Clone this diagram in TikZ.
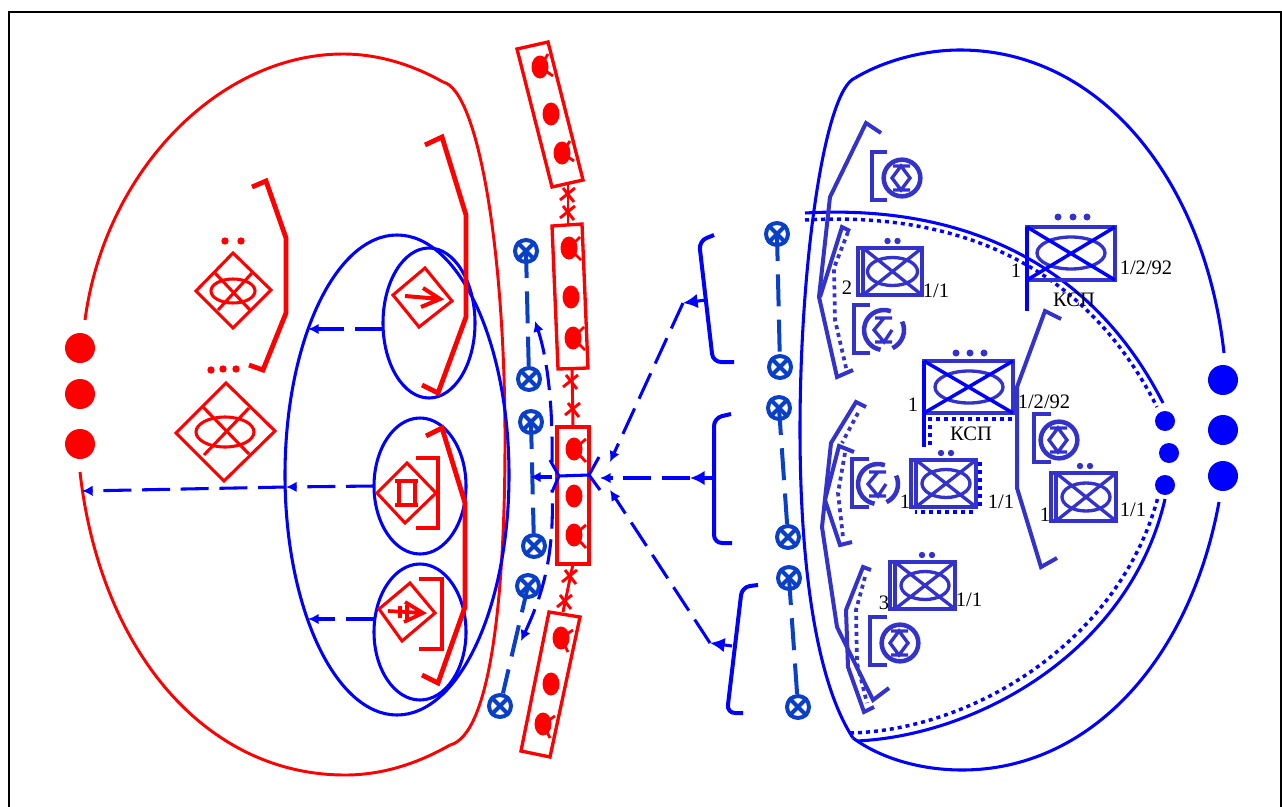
\documentclass[tikz,border=0pt]{standalone}
\usepackage{fontspec}
\setmainfont{Liberation Serif}
\usetikzlibrary{arrows.meta}
\definecolor{rd}{HTML}{FF0000}
\definecolor{bl}{HTML}{0000FF}
\definecolor{xb}{HTML}{0A40C8}
\definecolor{pu}{HTML}{3333CC}
\tikzset{
 redthin/.style={draw=rd,line width=2.2pt},
 redthick/.style={draw=rd,line width=3.6pt,line join=miter},
 redsym/.style={draw=rd,line width=2.3pt},
 blueline/.style={draw=bl,line width=2.3pt},
 bluefat/.style={draw=bl,line width=3pt,rounded corners=6pt},
 dashblue/.style={draw=bl,line width=2.3pt,dash pattern=on 21pt off 8pt},
 curvedash/.style={draw=bl,line width=2.3pt,dash pattern=on 19pt off 8pt},
 xdash/.style={draw=xb,line width=3pt,dash pattern=on 24pt off 10pt,dash phase=3.75pt},
 pubrk/.style={draw=pu,line width=3pt},
 pusym/.style={draw=pu,line width=2.5pt},
 pudot/.style={draw=pu,line width=2.8pt,dash pattern=on 3pt off 3pt},
 bdot/.style={draw=bl,line width=2.6pt,dash pattern=on 3pt off 3pt},
 crossl/.style={draw=bl,line width=2.6pt},
 smalltip/.style={-{Latex[length=8pt,width=8pt]}},
 bigtip/.style={-{Latex[length=11pt,width=11pt]}},
 dotnode/.style={circle,inner sep=0pt,minimum size=#1,fill},
 xc/.style={circle,draw=xb,line width=3pt,inner sep=0pt,minimum size=16.5pt},
 lab/.style={font=\fontsize{15.4pt}{16pt}\selectfont,text=black,inner sep=0pt},
}
\newcommand{\xcirc}[3]{\node[xc] (#1) at (#2,#3) {};
 \draw[xb,line width=3pt] (#1.45)--(#1.225) (#1.135)--(#1.315);}
\newcommand{\xmk}[2]{\draw[redthin] (#1-8,#2+5)--(#1+7,#2-7) (#1-5,#2-7)--(#1+6,#2+7);}
\newcommand{\blob}[6]{\fill[rd] (#1,#2) ellipse [x radius=8.5,y radius=11.5];
 \draw[rd,line width=2.1pt] (#1,#2)--(#1+#3,#2+#4) (#1,#2)--(#1+#5,#2+#6);}
\newcommand{\plainblob}[2]{\fill[rd] (#1,#2) ellipse [x radius=8.5,y radius=11.5];}
\newcommand{\barsym}{\draw[pusym] (-9,-12)--(8,-12) (-9,12)--(8,12) (-1,-12)--(-10,0)--(-1,12)--(8,0)--cycle;}
\newcommand{\rsym}[5]{%
 \begin{scope}[shift={(#1,#2)}]
 \node[circle,draw=pu,line width=3.4pt,minimum size=27.5pt,inner sep=0pt] (#3) at (0,0) {};
 \barsym
 \draw[pusym] (#4,-26)--(#5,-26)--(#5,22)--(#4,22);
 \end{scope}}
\newcommand{\rbrk}[4]{%
 \begin{scope}[shift={(#1,#2)}]
 \draw[pu,line width=3.4pt] (65:20) arc (65:-25:20);
 \draw[pu,line width=3.4pt] (-70:20) arc (-70:-260:20);
 \draw[pusym] (-9,-12)--(8,-12) (-9,12)--(8,12) (0,-12)--(-10,0)--(0,12)--(8,0);
 \draw[pusym] (#3,-25)--(#4,-25)--(#4,23)--(#3,23);
 \end{scope}}
\newcommand{\unit}[7]{%
 \draw[pusym,line width=2.7pt] (#1,#2) rectangle (#3,#4) (#5,#2)--(#5,#4);
 \draw[pusym] (#5,#2)--(#3,#4) (#3,#2)--(#5,#4);
 \draw[pusym] ({(#5+#3)/2},{(#2+#4)/2}) ellipse [x radius=#6,y radius=14];
 \fill[pu] ({(#5+#3)/2-4+#7},#2-7) circle (3.2) ({(#5+#3)/2+6+#7},#2-7) circle (3.2);}
\begin{document}
\begin{tikzpicture}[x=0.75pt,y=-0.75pt]
\useasboundingbox (0,0) rectangle (1282,807);
\draw[black,line width=1.6pt] (9,808)--(9,12)--(1281,12)--(1281,808);

% ---- red outline
\draw[redthin] (85,320) .. controls (105,170) and (220,54) .. (343,54) .. controls (380,54) and (415,66) .. (443,82);
\draw[redthin] (443,82) .. controls (478,90) and (505,250) .. (505,440) .. controls (505,600) and (490,735) .. (450,745);
\draw[redthin] (450,745) .. controls (415,765) and (380,775) .. (345,775) .. controls (205,775) and (100,650) .. (80,472);

% ---- red dots
\node[dotnode=22.5pt,rd] (rd1) at (80,348) {};
\node[dotnode=22.5pt,rd] (rd2) at (80,394) {};
\node[dotnode=22.5pt,rd] (rd3) at (80,444) {};

% ---- blue ellipses
\draw[blueline] (397,475) ellipse [x radius=112,y radius=240];
\draw[blueline] (429,323) ellipse [x radius=46,y radius=75];
\draw[blueline] (420,486) ellipse [x radius=46,y radius=68];
\draw[blueline] (420,632) ellipse [x radius=46,y radius=68];

% ---- red brackets
\draw[redthick] (425,145)--(442,137)--(466,215)--(466,317)--(438,393)--(422,385);
\draw[redthick] (426,436)--(442,428)--(465,503)--(465,607)--(438,683)--(422,675);
\draw[redthick] (252,187)--(266,181)--(286,238)--(286,313)--(263,370)--(249,365);

% ---- red symbols
\draw[redsym] (233,253)--(271,290)--(233,328)--(196,291)--cycle;
\draw[redsym] (233,291) ellipse [x radius=22,y radius=12];
\draw[redsym] (215,273)--(250,310) (252,273)--(218,310);
\fill[rd] (225,241) circle (3.7) (241,241) circle (3.7);

\draw[redsym] (226,383)--(275,431)--(224,481)--(176,433)--cycle;
\draw[redsym] (225,432) ellipse [x radius=29,y radius=15];
\draw[redsym] (203,407)--(249,454) (249,408)--(204,455);
\fill[rd] (211,370) circle (3.7) (223,369) circle (3.7) (236,369) circle (3.7);

\draw[redsym] (425,268)--(452,301)--(419,327)--(393,295)--cycle;
\draw[rd,line width=3pt] (405,296)--(440,299) (423,288)--(440,299)--(421,307);

\draw[redsym] (407,463)--(436,493)--(405,523)--(377,493)--cycle;
\draw[redsym] (395,481)--(418,481) (399,481)--(399,505) (415,481)--(415,505) (395,505)--(418,505);
\draw[redsym] (416,458)--(438,458)--(438,528)--(416,528);

\draw[redsym] (410,583)--(435,613)--(402,641)--(379,609)--cycle;
\draw[rd,line width=2.8pt] (388,611)--(423,613) (405,602)--(423,613)--(404,622) (400,606)--(400,618) (407,605)--(407,620);
\draw[redsym] (419,579)--(442,579)--(442,649)--(419,649);

% ---- left dashed arrows
\coordinate (la1) at (383,329); \coordinate (la1e) at (308,329);
\coordinate (la2) at (374,486); \coordinate (la2m) at (286,487); \coordinate (la2e) at (82,491);
\coordinate (la3) at (374,619); \coordinate (la3e) at (308,619);
\draw[dashblue,smalltip] (la1)--(la1e);
\draw[dashblue,smalltip] (la2)--(la2m);
\draw[dashblue,smalltip] (la2m)--(la2e);
\draw[dashblue,smalltip] (la3)--(la3e);

% ---- red chain
\coordinate (l1a) at (568,185); \coordinate (l1b) at (568,225);
\coordinate (l2a) at (572,368); \coordinate (l2b) at (573,427);
\coordinate (l3a) at (573,564); \coordinate (l3b) at (563,612);
\draw[redthin] (l1a)--(l1b); \draw[redthin] (l2a)--(l2b); \draw[redthin] (l3a)--(l3b);
\xmk{568}{195} \xmk{568}{213} \xmk{571}{382} \xmk{573}{410} \xmk{570}{577} \xmk{565}{602}
\draw[redthin,line width=2.5pt] (517,49)--(548,42)--(583,180)--(552,187)--cycle;
\draw[redthin,line width=2.5pt] (552,226)--(582,224)--(588,368)--(558,369)--cycle;
\draw[redthin,line width=2.5pt] (557,427) rectangle (589,564);
\draw[redthin,line width=2.5pt] (549,612)--(580,617)--(550,757)--(521,751)--cycle;
\blob{540}{67}{8}{-13}{13}{9}
\plainblob{551}{114}
\blob{562}{153}{8}{-12}{12}{8}
\blob{569}{248}{11}{-11}{12}{12}
\plainblob{571}{297}
\blob{573}{338}{11}{-11}{12}{12}
\blob{574}{449}{12}{-10}{12}{13}
\plainblob{574}{496}
\blob{574}{535}{12}{-10}{12}{13}
\blob{561}{638}{12}{-8}{7}{14}
\plainblob{551}{684}
\blob{543}{724}{12}{-8}{7}{14}

% ---- X circles and their connectors
\xcirc{x1}{526}{251} \xcirc{x2}{529}{379} \xcirc{x3}{531}{422} \xcirc{x4}{534}{546} \xcirc{x5}{528}{586} \xcirc{x6}{500}{706}
\xcirc{x7}{777}{234} \xcirc{x8}{780}{367} \xcirc{x9}{779}{408} \xcirc{x10}{788}{537} \xcirc{x11}{789}{578} \xcirc{x12}{798}{707}
\draw[xdash] (x1.center)--(x2);
\draw[xdash] (x3.center)--(x4);
\draw[xdash] (x5.center)--(x6);
\draw[xdash] (x7.center)--(x8);
\draw[xdash] (x9.center)--(x10);
\draw[xdash] (x11.center)--(x12);

% ---- fork
\coordinate (fl) at (559,476); \coordinate (fr) at (589,475);
\draw[blueline] (550,460)--(fl)--(552,492);
\draw[blueline] (599,457)--(fr)--(600,490);
\draw[blueline] (fl)--(fr);
\coordinate (fs) at (552,477); \coordinate (fe) at (530,477);
\draw[blueline,line width=2.6pt,smalltip] (fs)--(fe);
\draw[curvedash,smalltip] (552,462) .. controls (553,410) and (548,360) .. (535,321);
\draw[curvedash,smalltip,dash phase=17pt] (552,490) .. controls (555,560) and (540,600) .. (521,641);

% ---- braces and arrows
\draw[bluefat] (714,235)--(699,241)--(713,362)--(734,362);
\draw[bluefat] (731,414)--(714,418)--(714,543)--(732,543);
\draw[bluefat] (758,585)--(742,587)--(727,713)--(743,713);
\coordinate (b1) at (706,300); \coordinate (t1) at (683,303); \coordinate (e1) at (610,462);
\coordinate (b2) at (714,478); \coordinate (t2) at (690,478); \coordinate (e2) at (600,478);
\coordinate (b3) at (732,646); \coordinate (t3) at (710,643); \coordinate (e3) at (610,490);
\draw[blueline,bigtip] (b1)--(t1);
\draw[blueline,bigtip] (b2)--(t2);
\draw[blueline,bigtip] (b3)--(t3);
\draw[dashblue,smalltip] (t1)--(e1);
\draw[dashblue,smalltip] (t2)--(e2);
\draw[dashblue,smalltip] (t3)--(e3);

% ---- blue outline
\draw[blueline] (855,78) .. controls (885,60) and (925,50) .. (960,50) .. controls (1100,50) and (1205,180) .. (1224,353);
\draw[blueline] (855,78) .. controls (825,90) and (800,260) .. (800,430) .. controls (800,560) and (815,680) .. (853,738);
\draw[blueline] (853,738) .. controls (880,758) and (920,770) .. (962,770) .. controls (1090,770) and (1190,660) .. (1219,502);
\draw[blueline] (805,213) .. controls (945,205) and (1085,250) .. (1163,403);
\draw[bdot] (805,220) .. controls (945,212) and (1080,255) .. (1157,407);
\draw[blueline] (857,741) .. controls (980,735) and (1130,650) .. (1165,499);
\draw[bdot] (850,733) .. controls (975,730) and (1120,640) .. (1158,497);

\node[dotnode=22.5pt,bl] (bd1) at (1223,380) {};
\node[dotnode=22.5pt,bl] (bd2) at (1223,430) {};
\node[dotnode=22.5pt,bl] (bd3) at (1223,476) {};
\node[dotnode=15pt,bl] (bs1) at (1165,421) {};
\node[dotnode=15pt,bl] (bs2) at (1169,453) {};
\node[dotnode=15pt,bl] (bs3) at (1165,485) {};

% ---- purple brackets
\draw[pubrk] (881,133)--(866,123)--(830,197)--(819,297)--(837,377)--(853,370);
\draw[pubrk] (850,231)--(842,227)--(820,297);
\draw[pudot] (848,232)--(834,268)--(835,320)--(847,372);
\draw[pubrk] (866,407)--(856,402)--(831,443)--(822,527)--(837,627)--(873,700)--(889,688);
\draw[pudot] (858,413)--(842,443);
\draw[pubrk] (854,452)--(839,446)--(825,500)--(840,545)--(852,542);
\draw[pudot] (845,453)--(838,493)--(843,537);
\draw[pubrk] (871,570)--(863,567)--(846,610)--(848,667)--(864,712)--(874,707);
\draw[pudot] (865,577)--(856,610)--(857,663)--(867,703);
\draw[pubrk] (1061,319)--(1045,311)--(1017,387)--(1017,488)--(1041,567)--(1057,558);

% ---- big units with flags
\draw[pusym] (1027,227) rectangle (1115,280);
\draw[pusym] (1071,253) ellipse [x radius=34,y radius=16];
\draw[crossl] (1027,227)--(1115,280) (1115,227)--(1027,280);
\draw[crossl] (1027,227)--(1027,311);
\fill[pu] (1058,217) circle (3.5) (1073,217) circle (3.5) (1087,217) circle (3.5);
\node[lab] (t1a) at (1016,271) {1};
\node[lab] (t1b) at (1146,268) {1/2/92};
\node[lab] (t1c) at (1074,300) {КСП};

\draw[pusym] (924,361) rectangle (1013,413);
\draw[pusym] (969,387) ellipse [x radius=34,y radius=16];
\draw[crossl] (924,361)--(1013,413) (1013,361)--(924,413);
\draw[crossl] (924,361)--(924,447);
\fill[pu] (956,353) circle (3.5) (970,353) circle (3.5) (984,353) circle (3.5);
\draw[bdot] (1012,419)--(930,419)--(930,445);
\node[lab] (t2a) at (913,405) {1};
\node[lab] (t2b) at (1044,402) {1/2/92};
\node[lab] (t2c) at (971,434) {КСП};

% ---- small units
\unit{858}{248}{922}{295}{863}{25}{-1}
\node[lab] (t3a) at (847,288) {2};
\node[lab] (t3b) at (936,291) {1/1};
\unit{911}{460}{976}{507}{916}{24}{-1}
\draw[bdot] (980,462)--(980,508) (973,512)--(915,512);
\node[lab] (t4a) at (905,502) {1};
\node[lab] (t4b) at (1001,502) {1/1};
\unit{1051}{473}{1116}{521}{1056}{24}{-2}
\node[lab] (t5a) at (1045,515) {1};
\node[lab] (t5b) at (1133,510) {1/1};
\unit{890}{562}{955}{609}{895}{24}{1}
\node[lab] (t6a) at (884,603) {3};
\node[lab] (t6b) at (969,600) {1/1};

% ---- round symbols
\rsym{902}{178}{rs1}{-15}{-30}
\rsym{1059}{440}{rs2}{-8}{-25}
\rsym{900}{643}{rs3}{-13}{-30}
\rbrk{884}{330}{-14}{-30}
\rbrk{878}{484}{-9}{-26}
\end{tikzpicture}
\end{document}
